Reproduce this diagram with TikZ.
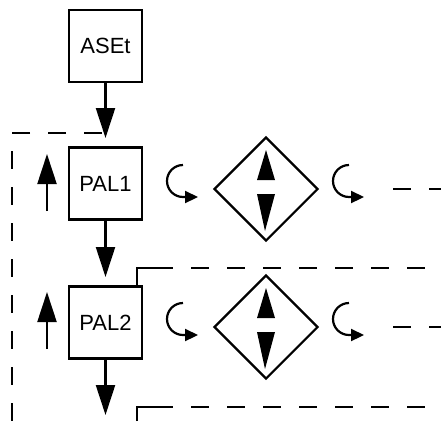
\documentclass[tikz,border=0pt]{standalone}
\usepackage{fontspec}
\setmainfont{Liberation Sans}
\usetikzlibrary{arrows.meta,shapes.geometric}
\begin{document}
\begin{tikzpicture}[x=1pt,y=-1pt,line width=2.2pt,
  box/.style={draw,line width=2.6pt,minimum width=73pt,minimum height=72pt,inner sep=0pt,font=\fontsize{22}{26}\selectfont},
  dia/.style={draw,diamond,aspect=1,minimum size=104pt,inner sep=0pt,line width=2.2pt},
  bigarr/.style={-{Triangle[length=30pt,width=19pt]}},
  smallarr/.style={-{Triangle[length=13pt,width=12pt]}},
  dline/.style={dash pattern=on 18pt off 18pt},
  tri/.style={fill=black,draw=none}]
\useasboundingbox (0,0) rectangle (441,421);
% boxes
\node[box] (aset) at (105.5,46) {ASEt};
\node[box] (pal1) at (105.5,183.5) {PAL1};
\node[box] (pal2) at (105.5,322.5) {PAL2};
% diamonds
\node[dia] (d1) at (266,189) {};
\node[dia] (d2) at (266,327) {};
% arrow tips / free ends
\coordinate (t1) at (105.5,138);
\coordinate (t2) at (105.5,277);
\coordinate (t3) at (105.5,415);
\coordinate (u1s) at (47,211);
\coordinate (u1e) at (47,154);
\coordinate (u2s) at (47,349);
\coordinate (u2e) at (47,292);
% main down arrows
\draw[bigarr] (aset.south) -- (t1);
\draw[bigarr] (pal1.south) -- (t2);
\draw[bigarr] (pal2.south) -- (t3);
% up arrows
\draw[bigarr] (u1s) -- (u1e);
\draw[bigarr] (u2s) -- (u2e);
% left dashed loop
\draw[dline] (102,133) -- (12,133) -- (12,421);
% dashed from PAL2 top
\coordinate (c1) at (137,268);
\draw (pal2.north -| c1) -- (c1) -- (155,268);
\draw[dline] (155,268) -- ++(18,0) -- (441,268);
% dashed bottom
\coordinate (c2) at (137,407);
\draw (137,421) -- (c2) -- (155,407);
\draw[dline] (155,407) -- ++(18,0) -- (441,407);
% row dashed lines
\draw[dline] (393,189) -- (441,189);
\draw[dline] (393,327) -- (441,327);
% curved arrows and inner triangles per row
\foreach \yc in {189,327}{
  \foreach \xc in {183,349}{
    \draw[smallarr] (\xc,\yc-24) arc[start angle=270,end angle=90,radius=16] -- (\xc+15,\yc+8);
  }
  \fill (266,\yc-39) -- (275,\yc-9) -- (257,\yc-9) -- cycle;
  \fill (257,\yc+5) -- (275,\yc+5) -- (265,\yc+42) -- cycle;
}
\end{tikzpicture}
\end{document}
